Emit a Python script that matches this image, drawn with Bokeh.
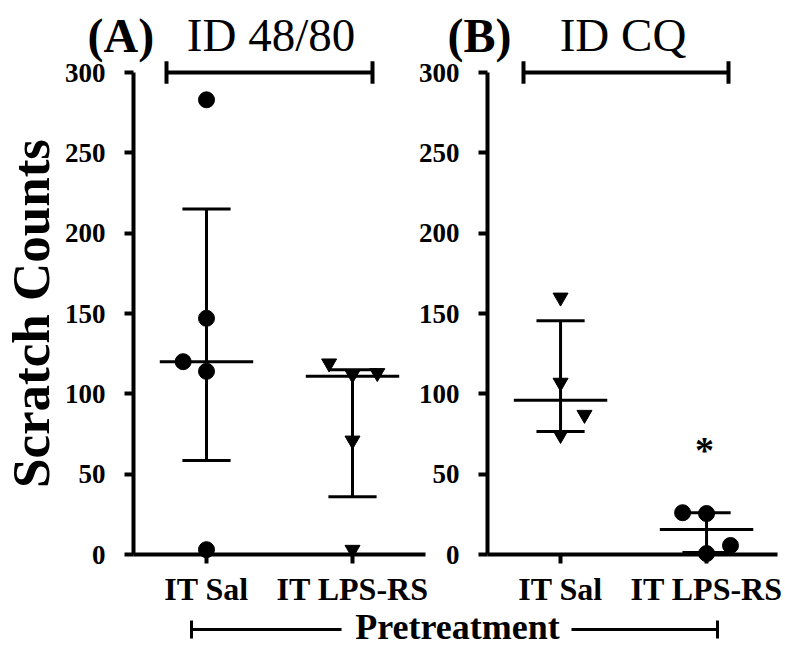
from bokeh.plotting import figure
from bokeh.models import Label, FixedTicker, LinearAxis
from bokeh.core.properties import value
from bokeh.embed import file_html
from bokeh.resources import INLINE

# ---------------- data ----------------
categories = ["IT Sal", "IT LPS-RS"]
cat_pos = [1, 2]
y_ticks = [0, 50, 100, 150, 200, 250, 300]

# Panel A: ID 48/80  (IT Sal = circles, IT LPS-RS = inverted triangles)
a_sal_x = [1.0, 1.0, 0.84, 1.0, 1.0]
a_sal_y = [283, 147, 120, 114, 3]
a_lps_x = [1.84, 2.0, 2.17, 2.0, 2.0]
a_lps_y = [119, 112, 113, 71, 3]
a_median = [120, 111]
a_low = [58.5, 36]
a_high = [215, 115]

# Panel B: ID CQ  (IT Sal = inverted triangles, IT LPS-RS = circles)
b_sal_x = [1.0, 1.0, 1.164, 1.0]
b_sal_y = [160, 107, 87, 74.5]
b_lps_x = [1.836, 2.0, 2.164, 2.0]
b_lps_y = [26, 25.5, 5.6, 0.6]
b_median = [96, 15.5]
b_low = [76.5, 1.2]
b_high = [145.5, 26]
b_star_x = [2.0]
b_star_y = [66]

FONT = "Liberation Serif"
MED_HALF = 0.32
CAP_HALF = 0.165

# ---------------- layout constants (pixels) ----------------
W, H = 785, 645
AXIS_PX = 133          # pixel column of panel A's y axis (x = 0.5)
ZERO_PX = 554          # pixel row of count 0
PX_PER_Y = 482 / 300   # pixels per count
PX_PER_X = 146         # pixels per category step
SHIFT_B = 2.425        # horizontal offset of panel B (in category steps)


def px_x(px):
    return 0.5 + (px - AXIS_PX) / PX_PER_X


def px_y(py):
    return (ZERO_PX - py) / PX_PER_Y


p = figure(width=W, height=H, x_range=(px_x(0), px_x(W)), y_range=(px_y(H), px_y(0)),
           output_backend="svg", toolbar_location=None, min_border=0)
p.outline_line_color = None
p.grid.visible = False
p.background_fill_color = "white"
p.border_fill_color = "white"


def style_x_axis(ax, shift, right_end):
    ticks = [c + shift for c in cat_pos]
    ax.fixed_location = 0
    ax.bounds = (0.5 + shift, right_end)
    ax.ticker = FixedTicker(ticks=ticks)
    ax.major_label_overrides = {t: c for t, c in zip(ticks, categories)}
    ax.minor_tick_line_color = None
    ax.major_tick_in = 0
    ax.major_tick_out = 9
    ax.major_tick_line_width = 4
    ax.axis_line_width = 4
    ax.axis_line_color = "black"
    ax.major_tick_line_color = "black"
    ax.major_label_text_font = FONT
    ax.major_label_text_font_style = "bold"
    ax.major_label_text_font_size = "32px"
    ax.major_label_text_color = "black"
    ax.major_label_standoff = 7


def style_y_axis(ax, shift):
    ax.fixed_location = 0.5 + shift
    ax.bounds = (0, 300)
    ax.ticker = FixedTicker(ticks=y_ticks)
    ax.minor_tick_line_color = None
    ax.major_tick_in = 0
    ax.major_tick_out = 9
    ax.major_tick_line_width = 4
    ax.axis_line_width = 4
    ax.axis_line_color = "black"
    ax.major_tick_line_color = "black"
    ax.major_label_text_font = FONT
    ax.major_label_text_font_style = "bold"
    ax.major_label_text_font_size = "27px"
    ax.major_label_text_color = "black"
    ax.major_label_standoff = 19


# panel A axes (the figure's own)
style_x_axis(p.xaxis[0], 0.0, 2.5)
style_y_axis(p.yaxis[0], 0.0)
p.yaxis[0].axis_label = "Scratch Counts"
p.yaxis[0].axis_label_text_font = FONT
p.yaxis[0].axis_label_text_font_style = "bold"
p.yaxis[0].axis_label_text_font_size = "53px"
p.yaxis[0].axis_label_text_color = "black"
p.yaxis[0].axis_label_standoff = 2

# panel B axes
xb = LinearAxis()
style_x_axis(xb, SHIFT_B, px_x(777))
p.add_layout(xb, "below")
yb = LinearAxis()
style_y_axis(yb, SHIFT_B)
p.add_layout(yb, "left")


def draw_panel(shift, letter, title, letter_px, title_px, bracket_px,
               pts, median, low, high):
    # top bracket
    bx0, bx1 = px_x(bracket_px[0]), px_x(bracket_px[1])
    p.segment(x0=[bx0], y0=[300], x1=[bx1], y1=[300], line_color="black", line_width=4)
    p.segment(x0=[bx0, bx1], y0=[293, 293], x1=[bx0, bx1], y1=[307, 307],
              line_color="black", line_width=4)
    # titles
    p.add_layout(Label(x=px_x(letter_px), y=314, y_offset=15, text=letter, text_font=FONT,
                       text_font_style="bold", text_font_size="48px",
                       text_color="black", text_baseline="alphabetic"))
    p.add_layout(Label(x=px_x(title_px), y=314, y_offset=15, text=title, text_font=FONT,
                       text_font_style="normal", text_font_size="47px",
                       text_color="black", text_align="center",
                       text_baseline="alphabetic"))
    cx = [c + shift for c in cat_pos]
    # median lines and error bars
    p.segment(x0=[c - MED_HALF for c in cx], y0=median,
              x1=[c + MED_HALF for c in cx], y1=median, line_color="black", line_width=3)
    p.segment(x0=cx, y0=low, x1=cx, y1=high, line_color="black", line_width=3)
    p.segment(x0=[c - CAP_HALF for c in cx], y0=low,
              x1=[c + CAP_HALF for c in cx], y1=low, line_color="black", line_width=3)
    p.segment(x0=[c - CAP_HALF for c in cx], y0=high,
              x1=[c + CAP_HALF for c in cx], y1=high, line_color="black", line_width=3)
    # points
    for xs, ys, kind in pts:
        xs = [x + shift for x in xs]
        if kind == "circle":
            p.scatter(xs, ys, marker="circle", size=16, fill_color="black", line_color="black")
        else:
            p.scatter(xs, ys, marker="inverted_triangle", size=15,
                      fill_color="black", line_color="black")


draw_panel(0.0, "(A)", "ID 48/80", 87, 270.5, (166, 372),
           [(a_sal_x, a_sal_y, "circle"), (a_lps_x, a_lps_y, "tri")],
           a_median, a_low, a_high)
draw_panel(SHIFT_B, "(B)", "ID CQ", 447, 622.5, (523, 728),
           [(b_sal_x, b_sal_y, "tri"), (b_lps_x, b_lps_y, "circle")],
           b_median, b_low, b_high)

p.text(x=[x + SHIFT_B for x in b_star_x], y=b_star_y, text=["*"], text_font=value(FONT),
       text_font_style="bold", text_font_size="38px", text_color="black",
       text_align="center", text_baseline="middle", x_offset=-2, y_offset=2)

# bottom "Pretreatment" bracket
ly = px_y(629)
p.segment(x0=[px_x(191), px_x(571)], y0=[ly, ly], x1=[px_x(341), px_x(717)], y1=[ly, ly],
          line_color="black", line_width=3)
p.segment(x0=[px_x(191), px_x(717)], y0=[px_y(638), px_y(638)],
          x1=[px_x(191), px_x(717)], y1=[px_y(620), px_y(620)],
          line_color="black", line_width=3)
p.text(x=[px_x(457)], y=[px_y(626)], text=["Pretreatment"], text_font=value(FONT),
       text_font_style="bold", text_font_size="36px", text_color="black",
       text_align="center", text_baseline="alphabetic")

open("out.html", "w").write(file_html(p, INLINE))
